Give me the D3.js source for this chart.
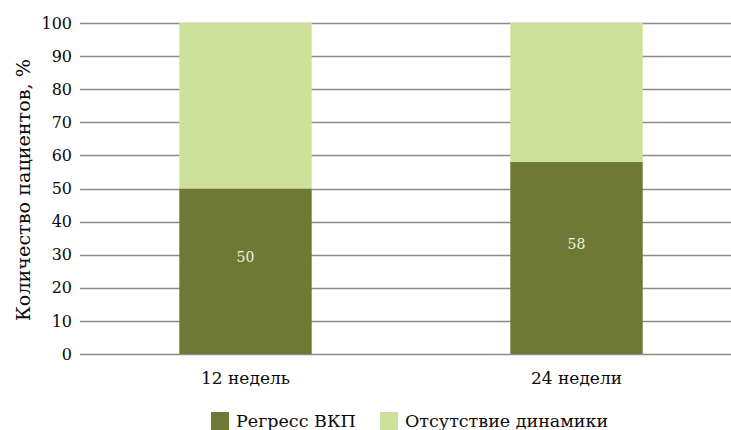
<!DOCTYPE html>
<html>
<head>
<meta charset="utf-8">
<script src="https://cdn.jsdelivr.net/npm/d3@7"></script>
<style>
  html, body { margin: 0; padding: 0; background: #fff; }
  svg text { font-family: "DejaVu Serif", serif; }
</style>
</head>
<body>
<svg id="chart" width="731" height="430"></svg>
<script>
// Share of patients by outcome at each time point, %
const categories = ["12 недель", "24 недели"];
const regress = [50, 58];
const noChange = [50, 42];
const seriesNames = ["Регресс ВКП", "Отсутствие динамики"];
const yTicks = [0, 10, 20, 30, 40, 50, 60, 70, 80, 90, 100];

const colors = ["#6e7935", "#cde19b"];

const svg = d3.select("#chart");
const margin = { left: 80 };
const W = 731;

const x = d3.scaleBand()
  .domain(categories)
  .range([margin.left, margin.left + 662])
  .paddingInner(0.6)
  .paddingOuter(0.3);

const y = d3.scaleLinear()
  .domain([0, 100])
  .range([354, 23]);

// gridlines
svg.append("g")
  .selectAll("line")
  .data(yTicks)
  .join("line")
  .attr("x1", margin.left)
  .attr("x2", W)
  .attr("y1", d => Math.round(y(d)) + 0.5)
  .attr("y2", d => Math.round(y(d)) + 0.5)
  .attr("stroke", "#8c8c8c")
  .attr("stroke-width", 1.3);

// y tick labels
const yAxis = d3.axisLeft(y).tickValues(yTicks).tickSize(0).tickPadding(0);
const ya = svg.append("g").attr("transform", `translate(${margin.left - 8},0)`).call(yAxis);
ya.attr("font-family", null);
ya.select(".domain").remove();
ya.selectAll("text")
  .attr("font-size", 16)
  .attr("fill", "#0a0a0a");

// stacked bars
const stackData = categories.map((c, i) => ({ cat: c, a: regress[i], b: noChange[i] }));
const stacked = d3.stack().keys(["a", "b"])(stackData);

svg.append("g")
  .selectAll("g")
  .data(stacked)
  .join("g")
  .attr("fill", (d, i) => colors[i])
  .selectAll("rect")
  .data(d => d)
  .join("rect")
  .attr("x", d => x(d.data.cat))
  .attr("width", x.bandwidth())
  .attr("y", d => y(d[1]))
  .attr("height", d => y(d[0]) - y(d[1]));

// value labels inside the lower segment
svg.append("g")
  .selectAll("text")
  .data(stackData)
  .join("text")
  .attr("x", d => x(d.cat) + x.bandwidth() / 2)
  .attr("y", d => (y(0) + y(d.a)) / 2 - 9)
  .attr("text-anchor", "middle")
  .attr("font-size", 14)
  .attr("fill", "#f0f0e4")
  .text(d => d.a);

// x category labels
const xAxis = d3.axisBottom(x).tickSize(0).tickPadding(0);
const xa = svg.append("g").attr("transform", `translate(0,${y(0) + 30})`).call(xAxis);
xa.attr("font-family", null);
xa.select(".domain").remove();
xa.selectAll("text")
  .attr("font-size", 17)
  .attr("fill", "#0a0a0a")
  .attr("dy", 0);

// y axis title
svg.append("text")
  .attr("transform", `translate(30,${190}) rotate(-90)`)
  .attr("text-anchor", "middle")
  .attr("font-size", 18)
  .attr("textLength", 262)
  .attr("lengthAdjust", "spacingAndGlyphs")
  .attr("fill", "#0a0a0a")
  .text("Количество пациентов, %");

// legend
const legendX = [211, 380];
const leg = svg.append("g")
  .selectAll("g")
  .data(seriesNames)
  .join("g")
  .attr("transform", (d, i) => `translate(${legendX[i]},412)`);
leg.append("rect")
  .attr("width", 18).attr("height", 18)
  .attr("fill", (d, i) => colors[i]);
leg.append("text")
  .attr("x", 25)
  .attr("y", 15)
  .attr("font-size", 17.5)
  .attr("fill", "#0a0a0a")
  .text(d => d);
</script>
</body>
</html>
